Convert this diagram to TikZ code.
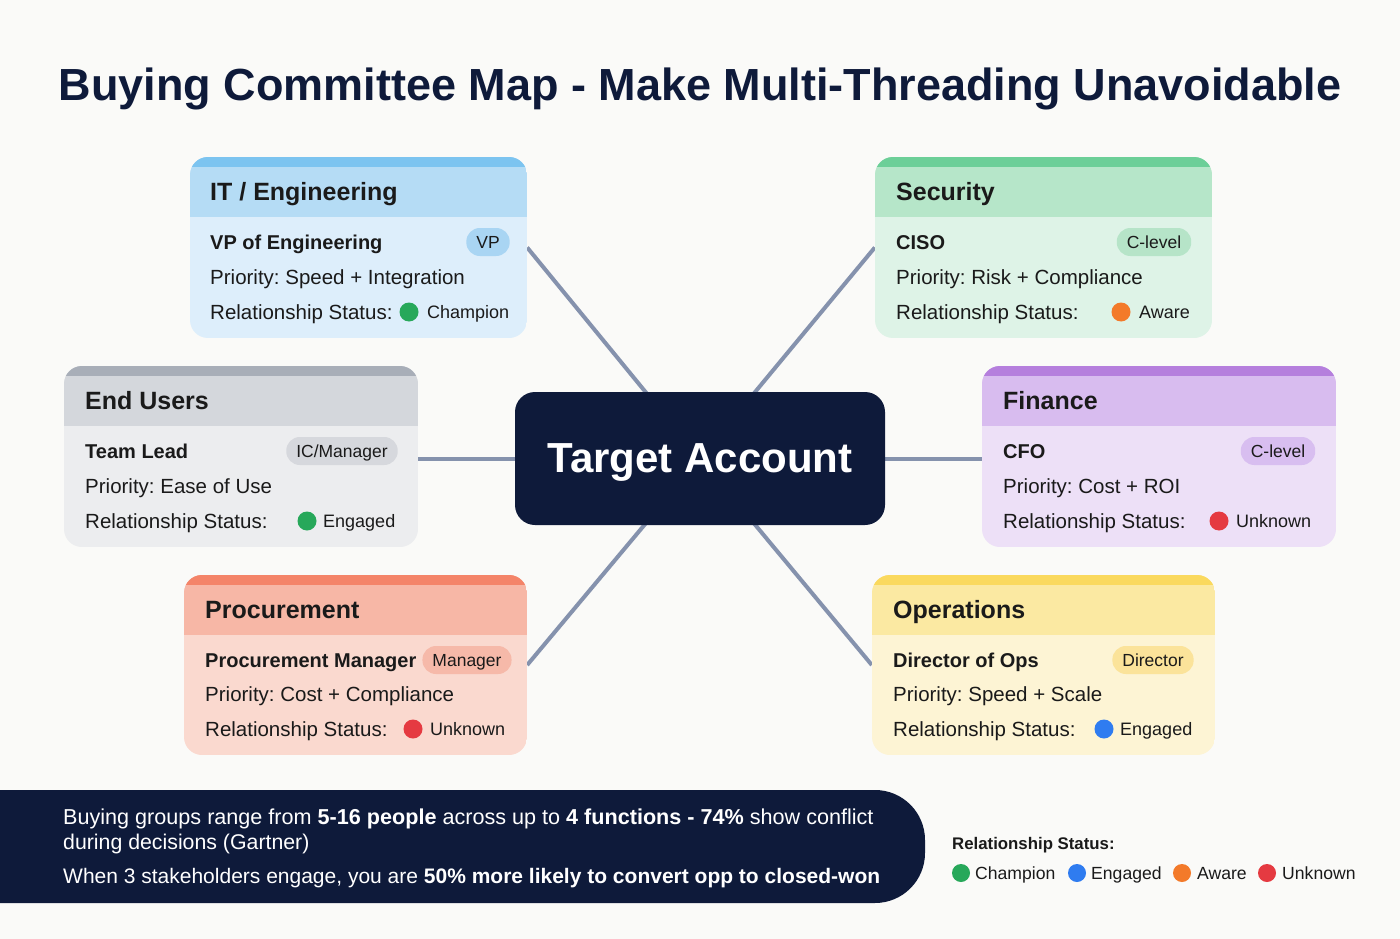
\documentclass[tikz,border=0pt]{standalone}
\usepackage{fontspec}
\setmainfont{Liberation Sans}
\frenchspacing
\pgfdeclarelayer{back}
\pgfdeclarelayer{conns}
\pgfsetlayers{back,conns,main}
\definecolor{bgc}{HTML}{FAFAF8}
\definecolor{navy}{HTML}{0E1A3A}
\definecolor{ink}{HTML}{1A1A1A}
\definecolor{connc}{HTML}{8592AD}
\definecolor{itS}{HTML}{7CC4F0}\definecolor{itH}{HTML}{B5DCF5}\definecolor{itB}{HTML}{DDEEFB}\definecolor{itG}{HTML}{A9D5F3}
\definecolor{seS}{HTML}{6CCF98}\definecolor{seH}{HTML}{B6E6C9}\definecolor{seB}{HTML}{DEF3E7}\definecolor{seG}{HTML}{B6E4C8}
\definecolor{euS}{HTML}{A8AEB8}\definecolor{euH}{HTML}{D4D7DC}\definecolor{euB}{HTML}{ECEDEF}\definecolor{euG}{HTML}{D6D8DD}
\definecolor{fiS}{HTML}{B57FDD}\definecolor{fiH}{HTML}{D8BCEF}\definecolor{fiB}{HTML}{EDE0F7}\definecolor{fiG}{HTML}{D8BEF0}
\definecolor{prS}{HTML}{F48469}\definecolor{prH}{HTML}{F7B7A6}\definecolor{prB}{HTML}{FAD9CF}\definecolor{prG}{HTML}{F6B9A9}
\definecolor{opS}{HTML}{FAD95E}\definecolor{opH}{HTML}{FBE9A2}\definecolor{opB}{HTML}{FDF4D4}\definecolor{opG}{HTML}{FBE39A}
\definecolor{cgreen}{HTML}{27A85A}
\definecolor{cblue}{HTML}{2F7CF0}
\definecolor{corange}{HTML}{F37A2A}
\definecolor{cred}{HTML}{E53A41}
\newcommand\mkcard[6]{%
  \begin{scope}
    \clip[rounded corners=18] (#2,#3) rectangle (#4,#5);
    \fill[#6B] (#2,#3) rectangle (#4,#5);
    \fill[#6H] (#2,#3) rectangle (#4,#3+60);
    \fill[#6S] (#2,#3) rectangle (#4,#3+10);
  \end{scope}
  \node[inner sep=0, minimum width={#4-#2}, minimum height={#5-#3}] (#1) at ({(#2+#4)/2},{(#3+#5)/2}) {};
}
\begin{document}
\begin{tikzpicture}[x=1pt,y=-1pt,
  conn/.style={draw=connc, line width=4pt},
  ttl/.style={font=\fontsize{25}{30}\selectfont\bfseries, text=ink, anchor=mid west, inner sep=0, yshift=-6pt},
  role/.style={font=\fontsize{20}{24}\selectfont\bfseries, text=ink, anchor=mid west, inner sep=0, yshift=-5pt},
  txt/.style={font=\fontsize{20.5}{24}\selectfont, text=ink, anchor=mid west, inner sep=0, yshift=-5pt},
  stat/.style={font=\fontsize{18}{22}\selectfont, text=ink, anchor=mid west, inner sep=0, yshift=-4pt},
  badge/.style={font=\fontsize{17.5}{20}\selectfont, text=ink, rounded corners=13.5, minimum height=28, inner xsep=10, inner ysep=0, text height=12.5pt, text depth=0pt},
  ctr/.style={fill=navy, rounded corners=20, minimum width=370, minimum height=133, text=white, text depth=0pt, font=\fontsize{42}{50}\selectfont\bfseries},
  bnr/.style={font=\fontsize{21.3}{25}\selectfont, text=white, anchor=mid west, inner sep=0, yshift=-5pt},
  leg/.style={font=\fontsize{17.6}{21}\selectfont, text=ink, anchor=mid west, inner sep=0, yshift=-4pt}
]
\useasboundingbox (0,0) rectangle (1400,939);
\begin{pgfonlayer}{back}
  \fill[bgc] (0,0) rectangle (1400,939);
\end{pgfonlayer}
\clip (0,0) rectangle (1400,939);

% title
\node[text=navy, font=\fontsize{45}{52}\selectfont\bfseries, inner sep=0, text depth=0pt] (title) at (700,84) {Buying Committee Map - Make Multi-Threading Unavoidable};

% center
\node[ctr] (ta) at (700,458.5) {Target Account};

% cards
\mkcard{it}{190}{157}{527}{338}{it}
\mkcard{se}{875}{157}{1212}{338}{se}
\mkcard{eu}{64}{366}{418}{547}{eu}
\mkcard{fi}{982}{366}{1336}{547}{fi}
\mkcard{pr}{184}{575}{527}{755}{pr}
\mkcard{op}{872}{575}{1215}{755}{op}

% IT
\node[ttl] (itT) at (210,192) {IT / Engineering};
\node[role] (itR) at (210,242) {VP of Engineering};
\node[badge, fill=itG] (itBd) at (488,242) {VP};
\node[txt] (itP) at (210,277) {Priority: Speed + Integration};
\node[txt] (itL) at (210,312) {Relationship Status:};
\fill[cgreen] (409,312) circle (9.5pt);
\node[stat] (itV) at (427,312) {Champion};

% Security
\node[ttl] (seT) at (896,192) {Security};
\node[role] (seR) at (896,242) {CISO};
\node[badge, fill=seG] (seBd) at (1154,242) {C-level};
\node[txt] (seP) at (896,277) {Priority: Risk + Compliance};
\node[txt] (seL) at (896,312) {Relationship Status:};
\fill[corange] (1121,312) circle (9.5pt);
\node[stat] (seV) at (1139,312) {Aware};

% End Users
\node[ttl] (euT) at (85,401) {End Users};
\node[role] (euR) at (85,451) {Team Lead};
\node[badge, fill=euG] (euBd) at (342,451) {IC/Manager};
\node[txt] (euP) at (85,486) {Priority: Ease of Use};
\node[txt] (euL) at (85,521) {Relationship Status:};
\fill[cgreen] (307,521) circle (9.5pt);
\node[stat] (euV) at (323,521) {Engaged};

% Finance
\node[ttl] (fiT) at (1003,401) {Finance};
\node[role] (fiR) at (1003,451) {CFO};
\node[badge, fill=fiG] (fiBd) at (1278,451) {C-level};
\node[txt] (fiP) at (1003,486) {Priority: Cost + ROI};
\node[txt] (fiL) at (1003,521) {Relationship Status:};
\fill[cred] (1219,521) circle (9.5pt);
\node[stat] (fiV) at (1236,521) {Unknown};

% Procurement
\node[ttl] (prT) at (205,610) {Procurement};
\node[role] (prR) at (205,660) {Procurement Manager};
\node[badge, fill=prG] (prBd) at (467,660) {Manager};
\node[txt] (prP) at (205,694) {Priority: Cost + Compliance};
\node[txt] (prL) at (205,729) {Relationship Status:};
\fill[cred] (413,729) circle (9.5pt);
\node[stat] (prV) at (430,729) {Unknown};

% Operations
\node[ttl] (opT) at (893,610) {Operations};
\node[role] (opR) at (893,660) {Director of Ops};
\node[badge, fill=opG] (opBd) at (1153,660) {Director};
\node[txt] (opP) at (893,694) {Priority: Speed + Scale};
\node[txt] (opL) at (893,729) {Relationship Status:};
\fill[cblue] (1104,729) circle (9.5pt);
\node[stat] (opV) at (1120,729) {Engaged};

% connectors
\begin{pgfonlayer}{conns}
  \draw[conn] (it.east) -- (ta.center);
  \draw[conn] (se.west) -- (ta.center);
  \draw[conn] (eu.east |- ta.west) -- (ta.west);
  \draw[conn] (fi.west |- ta.east) -- (ta.east);
  \draw[conn] (pr.east) -- (ta.center);
  \draw[conn] (op.west) -- (ta.center);
\end{pgfonlayer}

% banner
\node[fill=navy, rounded corners=50, minimum width=1025, minimum height=113, inner sep=0] (banner) at (412.5,846.5) {};
\node[bnr, font=\fontsize{21.6}{25}\selectfont] (b1) at (63,817) {Buying groups range from \textbf{5-16 people} across up to \textbf{4 functions - 74\%} show conflict};
\node[bnr] (b2) at (63,842) {during decisions (Gartner)};
\node[bnr, font=\fontsize{21}{25}\selectfont] (b3) at (63,876) {When 3 stakeholders engage, you are \textbf{50\% more likely to convert opp to closed-won}};

% legend
\node[font=\fontsize{16.8}{20}\selectfont\bfseries, text=ink, anchor=mid west, inner sep=0, yshift=-4pt] (lgT) at (952,843) {Relationship Status:};
\fill[cgreen] (961,873) circle (9pt);
\node[leg] (lg1) at (975,873) {Champion};
\fill[cblue] (1077,873) circle (9pt);
\node[leg] (lg2) at (1091,873) {Engaged};
\fill[corange] (1182,873) circle (9pt);
\node[leg] (lg3) at (1197,873) {Aware};
\fill[cred] (1267,873) circle (9pt);
\node[leg] (lg4) at (1282,873) {Unknown};
\end{tikzpicture}
\end{document}
